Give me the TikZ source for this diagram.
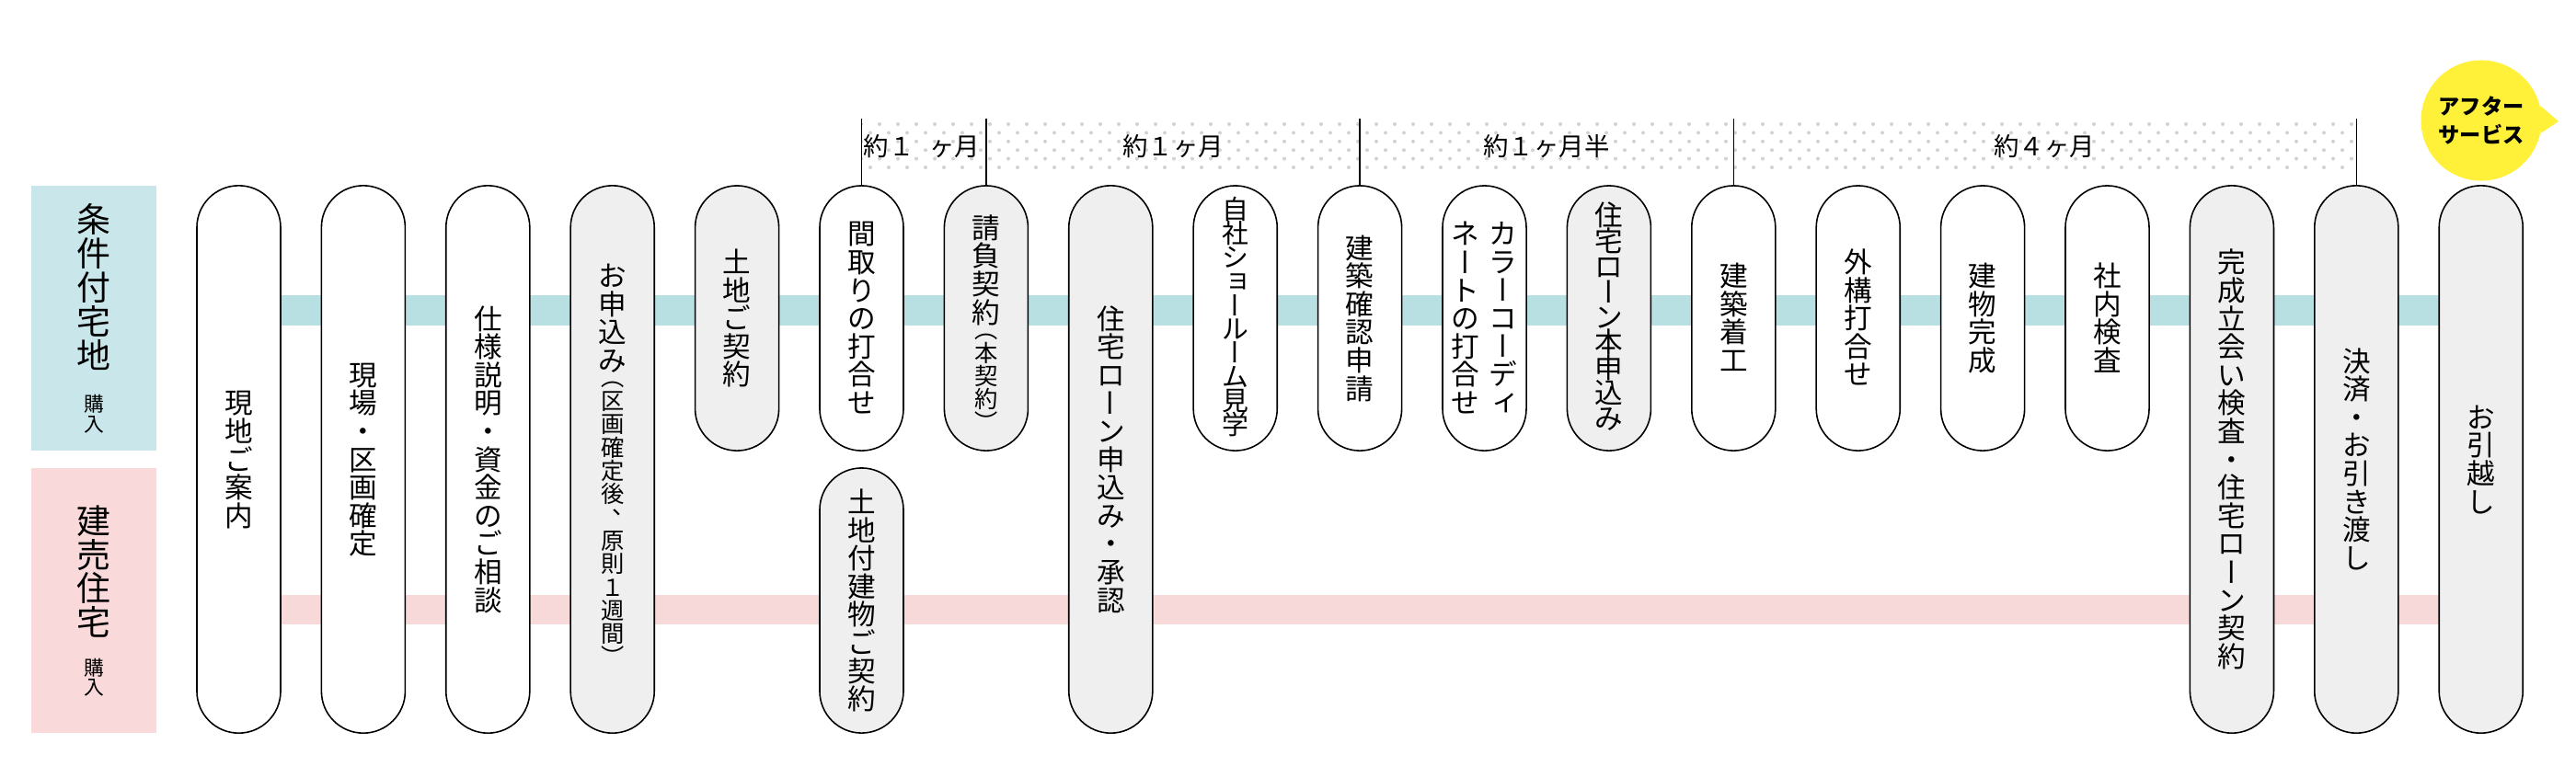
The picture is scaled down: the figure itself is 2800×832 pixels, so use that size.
\documentclass[tikz,border=0pt]{standalone}
\usepackage{fontspec}
\usepackage{graphicx}
\setmainfont{Noto Sans CJK JP}
\usetikzlibrary{backgrounds,positioning}

\definecolor{teallight}{HTML}{C9E7EA}
\definecolor{tealband}{HTML}{B8E0E2}
\definecolor{pinklight}{HTML}{F9D9D9}
\definecolor{pinkband}{HTML}{F8D9D9}
\definecolor{pillgray}{HTML}{EEEFEE}
\definecolor{dotgray}{HTML}{D2D2D2}
\definecolor{bubbleyellow}{HTML}{FFF13A}

% vertical (tategaki) text: one centred cell per character
\makeatletter
\newcommand{\tatepitch}{1em}
\newlength{\tatewidth}\setlength{\tatewidth}{0.5cm}
\def\tb@end{\tb@end}
\newcommand{\tatebox}[1]{\vbox{\offinterlineskip\tb@go#1\tb@end}}
\def\tb@go#1{%
  \ifx#1\tb@end\else
    \ifx#1（\tb@open\else\ifx#1）\tb@close\else\tb@cell{#1}\fi\fi
    \expandafter\tb@go
  \fi}
\def\tb@em#1{\raisebox{0pt}[0.88em][0.12em]{\makebox[1em]{#1}}}
\def\tb@cell#1{\hbox to\tatewidth{\hss
  \raisebox{0pt}[\dimexpr\tatepitch-0.12em\relax][0.12em]{\tb@glyph{#1}}\hss}}
\def\tb@glyph#1{%
  \ifx#1ー\rotatebox[origin=c]{90}{\tb@em{ー}}%
  \else\ifx#1、\makebox[1em][l]{\kern0.5em\raisebox{0.5em}{、}}%
  \else\ifx#1ョ\makebox[1em][l]{\kern0.1em\raisebox{0.1em}{ョ}}%
  \else\ifx#1ィ\makebox[1em][l]{\kern0.1em\raisebox{0.1em}{ィ}}%
  \else #1\fi\fi\fi\fi}
\def\tb@open{\hbox to\tatewidth{\hss
  \raisebox{0pt}[0.38em][0.12em]{\rotatebox[origin=c]{-90}{\tb@em{（}}}\hss}}
\def\tb@close{\hbox to\tatewidth{\hss
  \raisebox{-0.5em}[0.38em][0.12em]{\rotatebox[origin=c]{-90}{\tb@em{）}}}\hss}}
\makeatother
\newcommand{\tatesmall}[1]{{\fontsize{7.2pt}{8pt}\selectfont\tatebox{#1}}}

\tikzset{
  pill/.style={draw, line width=0.45pt, fill=white, rounded corners=0.455cm,
    minimum width=0.91cm, inner sep=0pt, font=\fontsize{8.7pt}{10pt}\selectfont},
  tallpill/.style={pill, minimum height=5.95cm},
  tallgray/.style={tallpill, fill=pillgray},
  halfpill/.style={pill, minimum height=2.88cm},
  halfgray/.style={halfpill, fill=pillgray},
  buybox/.style={minimum width=1.36cm, minimum height=2.88cm, inner sep=0pt,
    font=\fontsize{10.5pt}{12pt}\selectfont},
  tickline/.style={line width=0.4pt},
  period/.style={inner sep=0pt, font=\fontsize{7.8pt}{9pt}\selectfont},
  bubble/.style={circle, fill=bubbleyellow, minimum size=1.31cm, inner sep=0pt,
    align=center, font=\bfseries\fontsize{6.6pt}{8.8pt}\selectfont},
}

\begin{document}
\begin{tikzpicture}[x=0.01cm, y=-0.01cm]
    \useasboundingbox (0,0) rectangle (2800,832);
    % Row labels
    \node[buybox, fill=teallight] (jyoken) at (102,346)
        {\vbox{\tatebox{条件付宅地}\kern0.2cm{\fontsize{6.2pt}{8pt}\selectfont\tatebox{購入}}}};
    \node[buybox, fill=pinklight] (tateuri) at (102,653)
        {\vbox{\tatebox{建売住宅}\kern0.16cm{\fontsize{6.2pt}{8pt}\selectfont\tatebox{購入}}}};
    % Steps
    \foreach \i/\y/\sty/\txt in {
        1/499.5/tallpill/現地ご案内,
        2/499.5/tallpill/現場・区画確定,
        3/499.5/tallpill/仕様説明・資金のご相談,
        5/346/halfgray/土地ご契約,
        6/346/halfpill/間取りの打合せ,
        8/499.5/tallgray/住宅ローン申込み・承認,
        10/346/halfpill/建築確認申請,
        13/346/halfpill/建築着工,
        14/346/halfpill/外構打合せ,
        15/346/halfpill/建物完成,
        16/346/halfpill/社内検査,
        17/499.5/tallgray/完成立会い検査・住宅ローン契約,
        18/499.5/tallgray/決済・お引き渡し,
        19/499.5/tallgray/お引越し}
        \node[\sty] (c\i) at ({259.5+135.4*(\i-1)}, \y) {\expandafter\tatebox\expandafter{\txt}};
    \node[tallgray] (c4) at (665.7,499.5)
        {\vbox{\tatebox{お申込み}\tatesmall{（区画確定後、原則１週間）}}};
    \node[halfgray] (c7) at (1071.9,346) {\vbox{\tatebox{請負契約}\tatesmall{（本契約）}}};
    \node[halfpill, font=\fontsize{8.2pt}{10pt}\selectfont] (c9) at (1342.7,346)
        {\def\tatepitch{0.9em}\tatebox{自社ショールーム見学}};
    \node[halfpill] (c11) at (1613.5,346)
        {\tatebox{ネートの打合せ}\kern-0.09cm\tatebox{カラーコーディ}};
    \node[halfgray] (c12) at (1748.9,346) {\def\tatepitch{0.9em}\tatebox{住宅ローン本申込み}};
    \node[halfgray] (tatemono) at (c6.center |- 0,653) {\tatebox{土地付建物ご契約}};
    % Bands behind the steps
    \coordinate (kenrow) at (0,337.5);
    \coordinate (urerow) at (0,663);
    \begin{scope}[on background layer]
        \draw[tealband, line width=0.33cm] (c1.center |- kenrow) -- (c19.center |- kenrow);
        \draw[pinkband, line width=0.32cm] (c1.center |- urerow) -- (c19.center |- urerow);
    \end{scope}
    % Dotted period strip
    \begin{scope}
        \clip (c6.center |- 0,128) rectangle (c18.center |- 0,188);
        \foreach \r in {0,...,5}
            \foreach \c in {0,...,82}
                \fill[dotgray] ({936+20*\c+10*mod(\r,2)}, {135+9.4*\r}) circle[radius=0.2mm];
    \end{scope}
    \foreach \i in {6,7,10,13,18}
        \draw[tickline] (c\i.north) -- ++(0,-72);
    \node[period] (m1) at (1002,159) {約１\hspace{0.6em}ヶ月};
    \node[period] (m2) at (1275,159) {約１ヶ月};
    \node[period] (m3) at (1681,159) {約１ヶ月半};
    \node[period] (m4) at (2222,159) {約４ヶ月};
    % After service bubble
    \node[bubble] (after) at (2697,131) {アフター\\サービス};
    \coordinate (tip) at (2781,132);
    \fill[bubbleyellow] (after.14) -- (tip) -- (after.-12) -- cycle;
\end{tikzpicture}
\end{document}
